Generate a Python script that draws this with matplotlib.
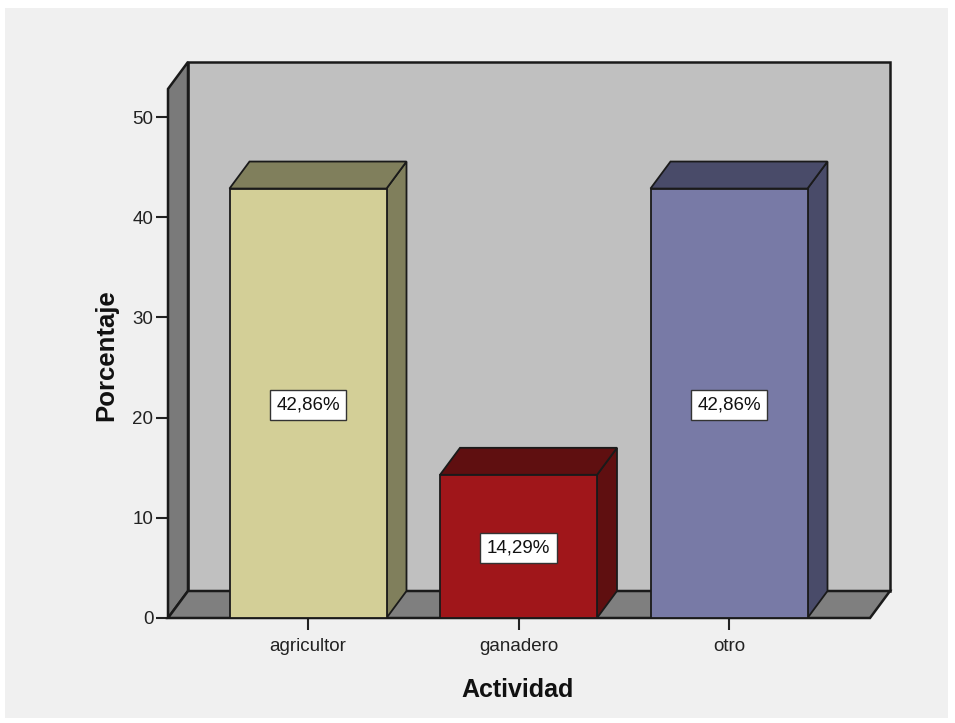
import matplotlib
matplotlib.use("Agg")
import matplotlib.pyplot as plt
from matplotlib.patches import Polygon, Rectangle

categories = ["agricultor", "ganadero", "otro"]
values = [42.86, 14.29, 42.86]
value_labels = ["42,86%", "14,29%", "42,86%"]
yticks = [0, 10, 20, 30, 40, 50]
front_colors = ["#D3CF97", "#A0161A", "#787AA6"]
shade_colors = ["#807F5C", "#5F0F10", "#494B69"]

plt.rcParams['font.family'] = ['Liberation Sans', 'DejaVu Sans']

W, H = 955, 723
fig = plt.figure(figsize=(W / 100, H / 100), dpi=100, facecolor="white")
# grey panel
fig.patches.append(Rectangle((5 / W, 1 - 718 / H), (948 - 5) / W, (718 - 8) / H,
                             transform=fig.transFigure, facecolor="#F0F0F0",
                             edgecolor="none", zorder=-10))

x_left_px, x_right_px = 168, 870
y0_px, y50_px = 618, 117
ax = fig.add_axes([x_left_px / W, 1 - y0_px / H,
                   (x_right_px - x_left_px) / W, (y0_px - y50_px) / H])
ax.set_zorder(5)
ax.set_facecolor("none")
px_per_x = 210.5
xmin = (x_left_px - 308) / px_per_x
xmax = (x_right_px - 308) / px_per_x
ax.set_xlim(xmin, xmax)
ax.set_ylim(0, 50)
for s in ax.spines.values():
    s.set_visible(False)

dx = 20 / px_per_x
dy = 27 / 10.02
ytop = 52.8
edge = "#1a1a1a"

# back wall
ax.add_patch(Polygon([(xmin + dx, dy), (xmax + dx, dy), (xmax + dx, ytop + dy),
                      (xmin + dx, ytop + dy)], closed=True, facecolor="#C0C0C0",
                     edgecolor=edge, lw=1.8, clip_on=False, zorder=1))
# left wall
ax.add_patch(Polygon([(xmin, 0), (xmin + dx, dy), (xmin + dx, ytop + dy), (xmin, ytop)],
                     closed=True, facecolor="#7A7A7A", edgecolor=edge, lw=1.8,
                     clip_on=False, zorder=2))
# floor
ax.add_patch(Polygon([(xmin, 0), (xmax, 0), (xmax + dx, dy), (xmin + dx, dy)],
                     closed=True, facecolor="#7F7F7F", edgecolor=edge, lw=1.8,
                     clip_on=False, zorder=2))

bw = 157 / px_per_x
for i, (v, fc, sc, lab) in enumerate(zip(values, front_colors, shade_colors, value_labels)):
    l, r = i - bw / 2, i + bw / 2
    ax.add_patch(Polygon([(r, 0), (r + dx, dy), (r + dx, v + dy), (r, v)], closed=True,
                         facecolor=sc, edgecolor=edge, lw=1.3, clip_on=False, zorder=3))
    ax.add_patch(Polygon([(l, v), (r, v), (r + dx, v + dy), (l + dx, v + dy)], closed=True,
                         facecolor=sc, edgecolor=edge, lw=1.3, clip_on=False, zorder=3))
    ax.add_patch(Rectangle((l, 0), bw, v, facecolor=fc, edgecolor=edge, lw=1.3,
                           clip_on=False, zorder=4))
    ax.text(i, v / 2, lab, ha="center", va="center_baseline", fontsize=13.5,
            color="#111111", zorder=6,
            bbox=dict(boxstyle="square,pad=0.35", facecolor="white",
                      edgecolor="#333333", lw=1.0))

ax.set_yticks(yticks)
ax.set_yticklabels([str(t) for t in yticks])
ax.set_xticks(range(len(categories)))
ax.set_xticklabels(categories)
ax.tick_params(axis="y", length=8.5, width=1.5, color="#222222", labelsize=13.5,
               labelcolor="#222222", pad=2)
ax.tick_params(axis="x", length=8.5, width=1.5, color="#222222", labelsize=13.5,
               labelcolor="#222222", pad=6)

fig.text(106 / W, 1 - 355 / H, "Porcentaje", rotation=90, ha="center", va="center",
         fontsize=18.5, fontweight="bold", color="#111111")
fig.text(518 / W, 1 - 690 / H, "Actividad", ha="center", va="center",
         fontsize=18, fontweight="bold", color="#111111")

fig.savefig("out.png", dpi=100, facecolor=fig.get_facecolor())
